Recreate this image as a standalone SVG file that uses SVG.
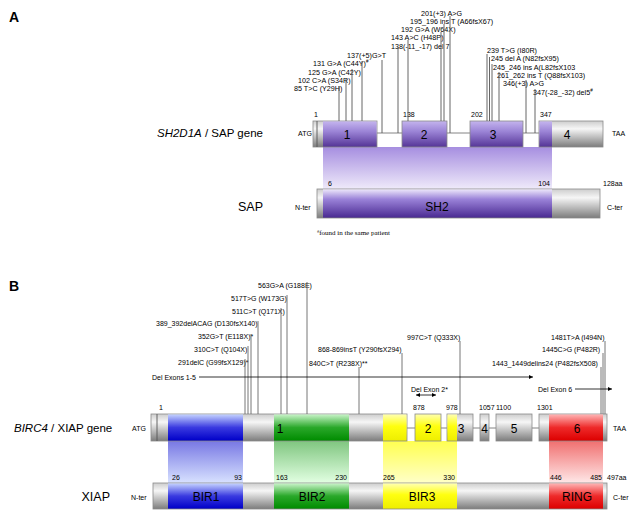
<svg xmlns="http://www.w3.org/2000/svg" width="640" height="510" viewBox="0 0 640 510">
<defs>
<linearGradient id="gGray" x1="0" y1="0" x2="0" y2="1"><stop offset="0" stop-color="#cdcdcd"/><stop offset="0.3" stop-color="#f6f6f6"/><stop offset="1" stop-color="#7c7c7c"/></linearGradient>
<linearGradient id="gPurp" x1="0" y1="0" x2="0" y2="1"><stop offset="0" stop-color="#c4b4ee"/><stop offset="0.4" stop-color="#9b84d6"/><stop offset="1" stop-color="#553597"/></linearGradient>
<linearGradient id="gPurpP" x1="0" y1="0" x2="0" y2="1"><stop offset="0" stop-color="#ece6fa"/><stop offset="0.35" stop-color="#9a82d8"/><stop offset="1" stop-color="#4a2a92"/></linearGradient>
<linearGradient id="gPurpProj" x1="0" y1="0" x2="0" y2="1"><stop offset="0" stop-color="#a68ee0"/><stop offset="1" stop-color="#efeafa"/></linearGradient>
<linearGradient id="gBlue" x1="0" y1="0" x2="0" y2="1"><stop offset="0" stop-color="#c4d2ff"/><stop offset="0.5" stop-color="#3a3ae0"/><stop offset="1" stop-color="#0000c8"/></linearGradient>
<linearGradient id="gBlueProj" x1="0" y1="0" x2="0" y2="1"><stop offset="0" stop-color="#7878e4"/><stop offset="1" stop-color="#d8e2ff"/></linearGradient>
<linearGradient id="gGreen" x1="0" y1="0" x2="0" y2="1"><stop offset="0" stop-color="#c8f4c8"/><stop offset="0.5" stop-color="#2aa82a"/><stop offset="1" stop-color="#008c00"/></linearGradient>
<linearGradient id="gGreenProj" x1="0" y1="0" x2="0" y2="1"><stop offset="0" stop-color="#80c680"/><stop offset="1" stop-color="#e2ffe2"/></linearGradient>
<linearGradient id="gYel" x1="0" y1="0" x2="0" y2="1"><stop offset="0" stop-color="#ffffb0"/><stop offset="0.45" stop-color="#ffff10"/><stop offset="1" stop-color="#eeee00"/></linearGradient>
<linearGradient id="gYelProj" x1="0" y1="0" x2="0" y2="1"><stop offset="0" stop-color="#ffff50"/><stop offset="1" stop-color="#ffffc8"/></linearGradient>
<linearGradient id="gRed" x1="0" y1="0" x2="0" y2="1"><stop offset="0" stop-color="#ffb4b4"/><stop offset="0.5" stop-color="#ee2a2a"/><stop offset="1" stop-color="#dd0000"/></linearGradient>
<linearGradient id="gRedProj" x1="0" y1="0" x2="0" y2="1"><stop offset="0" stop-color="#f07070"/><stop offset="1" stop-color="#ffe8e8"/></linearGradient>
<marker id="arr" viewBox="0 0 10 10" refX="10" refY="5" markerWidth="5" markerHeight="5" orient="auto-start-reverse"><path d="M0,0 L10,5 L0,10 z" fill="#000"/></marker>
</defs>
<style>
text{font-family:"Liberation Sans",Arial,sans-serif;fill:#000}
.m{font-size:7.2px}
.mb{font-size:7px}
.n{font-size:7px}
.t{font-size:7px}
.ex{font-size:12px}
.dom{font-size:12px}
.gn{font-size:11.5px}
.pn{font-size:12.5px}
.sec{font-size:14px;font-weight:bold}
.fn{font-family:"Liberation Serif","Times New Roman",serif;font-size:7px}
.box{stroke:#8a8a8a;stroke-width:0.8}
.ml{stroke:#555;stroke-width:0.9;fill:none}
.mlb{stroke:#666;stroke-width:0.9;fill:none}
.intr{stroke:#777;stroke-width:0.9;fill:none}
.arw{stroke:#000;stroke-width:0.8;fill:none}
</style>
<rect width="640" height="510" fill="#fff"/>

<text class="sec" x="9" y="22">A</text>
<text class="sec" x="9" y="291">B</text>

<!-- Section A -->
<g id="projA"><rect x="323" y="147" width="229" height="42" fill="url(#gPurpProj)"/></g>

<g id="geneA">
<text class="gn" x="157" y="137"><tspan font-style="italic">SH2D1A</tspan> / SAP gene</text>
<text class="t" x="298" y="136">ATG</text>
<text class="t" x="612" y="136">TAA</text>
<line class="intr" x1="377" y1="133" x2="402" y2="133"/>
<line class="intr" x1="447" y1="133" x2="470" y2="133"/>
<line class="intr" x1="523" y1="133" x2="539" y2="133"/>
<g id="exonA1"><rect class="box" x="313" y="121" width="64" height="26" fill="url(#gGray)"/><rect x="323" y="121.4" width="53.6" height="25.2" fill="url(#gPurp)"/><line x1="317" y1="121" x2="317" y2="147" stroke="#555" stroke-width="0.9"/><text class="ex" x="347" y="139" text-anchor="middle">1</text></g>
<g id="exonA2"><rect class="box" x="402" y="121" width="45" height="26" fill="url(#gPurp)"/><text class="ex" x="424" y="139" text-anchor="middle">2</text></g>
<g id="exonA3"><rect class="box" x="470" y="121" width="53" height="26" fill="url(#gPurp)"/><text class="ex" x="493" y="139" text-anchor="middle">3</text></g>
<g id="exonA4"><rect class="box" x="539" y="121" width="64" height="26" fill="url(#gGray)"/><rect x="539.4" y="121.4" width="12.6" height="25.2" fill="url(#gPurp)"/><text class="ex" x="567" y="139" text-anchor="middle">4</text></g>
<text class="n" x="314" y="117">1</text>
<text class="n" x="403" y="117">138</text>
<text class="n" x="471" y="117">202</text>
<text class="n" x="540" y="117">347</text>
</g>

<g id="proteinA">
<text class="pn" x="238" y="211">SAP</text>
<text class="t" x="295" y="210">N-ter</text>
<text class="t" x="607" y="210">C-ter</text>
<rect class="box" x="317" y="189" width="283" height="29" fill="url(#gGray)"/>
<rect x="323" y="189.4" width="229" height="28.2" fill="url(#gPurpP)"/>
<text class="dom" x="437" y="211" text-anchor="middle">SH2</text>
<text class="n" x="328" y="186">6</text>
<text class="n" x="550" y="186" text-anchor="end">104</text>
<text class="n" x="603" y="186">128aa</text>
<text class="fn" x="317" y="235"><tspan font-size="4.5" dy="-2.5">#</tspan><tspan dy="2.5">found in the same patient</tspan></text>
</g>

<g id="mutLabelsA">
<text class="m" x="421" y="15.5">201(+3) A&gt;G</text>
<text class="m" x="410" y="23.5">195_196 ins T (A66fsX67)</text>
<text class="m" x="401" y="31.5">192 G&gt;A (W64X)</text>
<text class="m" x="391" y="39.5">143 A&gt;C (H48P)</text>
<text class="m" x="391" y="48.5">138(-11_-17) del 7</text>
<text class="m" x="347" y="57.5">137(+5)G&gt;T</text>
<text class="m" x="313" y="65.5">131 G&gt;A (C44Y)<tspan font-size="4.5" dy="-3">#</tspan></text>
<text class="m" x="308" y="74.5">125 G&gt;A (C42Y)</text>
<text class="m" x="298" y="82.5">102 C&gt;A (S34R)</text>
<text class="m" x="294" y="90.5">85 T&gt;C (Y29H)</text>
<text class="m" x="487" y="52.5">239 T&gt;G (I80R)</text>
<text class="m" x="491" y="60.5">245 del A (N82fsX95)</text>
<text class="m" x="493" y="69.5">245_246 ins A(L82fsX103</text>
<text class="m" x="497" y="77.5">261_262 ins T (Q88fsX103)</text>
<text class="m" x="503" y="85.5">346(+3) A&gt;G</text>
<text class="m" x="533" y="94.5">347(-28_-32) del5<tspan font-size="4.5" dy="-3">#</tspan></text>
</g>

<!-- Section B -->
<g id="projB">
<rect x="168" y="441" width="75" height="42" fill="url(#gBlueProj)"/>
<rect x="274" y="441" width="75" height="42" fill="url(#gGreenProj)"/>
<rect x="383" y="441" width="74" height="42" fill="url(#gYelProj)"/>
<rect x="549" y="441" width="54" height="42" fill="url(#gRedProj)"/>
</g>

<g id="geneB">
<text class="gn" x="14" y="432"><tspan font-style="italic">BIRC4</tspan> / XIAP gene</text>
<text class="t" x="132" y="431">ATG</text>
<text class="t" x="613" y="431">TAA</text>
<line class="intr" x1="407" y1="428" x2="415" y2="428"/>
<line class="intr" x1="441" y1="428" x2="447" y2="428"/>
<line class="intr" x1="473" y1="428" x2="480" y2="428"/>
<line class="intr" x1="489" y1="428" x2="496" y2="428"/>
<line class="intr" x1="532" y1="428" x2="539" y2="428"/>
<g id="exonB1"><rect class="box" x="151" y="414" width="256" height="27" fill="url(#gGray)"/>
<rect x="168" y="414.4" width="75" height="26.2" fill="url(#gBlue)"/>
<rect x="274" y="414.4" width="75" height="26.2" fill="url(#gGreen)"/>
<rect x="383" y="414.4" width="23.6" height="26.2" fill="url(#gYel)"/>
<line x1="157" y1="414" x2="157" y2="441" stroke="#555" stroke-width="0.9"/>
<text class="ex" x="280" y="433" text-anchor="middle">1</text></g>
<g id="exonB2"><rect class="box" x="415" y="414" width="26" height="27" fill="url(#gYel)"/><text class="ex" x="428" y="433" text-anchor="middle">2</text></g>
<g id="exonB3"><rect class="box" x="447" y="414" width="26" height="27" fill="url(#gGray)"/><rect x="447.4" y="414.4" width="9.6" height="26.2" fill="url(#gYel)"/><text class="ex" x="461" y="433" text-anchor="middle">3</text></g>
<g id="exonB4"><rect class="box" x="480" y="414" width="9" height="27" fill="url(#gGray)"/><text class="ex" x="484.5" y="433" text-anchor="middle">4</text></g>
<g id="exonB5"><rect class="box" x="496" y="414" width="36" height="27" fill="url(#gGray)"/><text class="ex" x="514" y="433" text-anchor="middle">5</text></g>
<g id="exonB6"><rect class="box" x="539" y="414" width="68" height="27" fill="url(#gGray)"/><rect x="549" y="414.4" width="54" height="26.2" fill="url(#gRed)"/><text class="ex" x="577" y="433" text-anchor="middle">6</text></g>
<text class="n" x="159" y="410">1</text>
<text class="n" x="413" y="410">878</text>
<text class="n" x="446" y="410">978</text>
<text class="n" x="479" y="410">1057</text>
<text class="n" x="496" y="410">1100</text>
<text class="n" x="537" y="410">1301</text>
</g>

<g id="proteinB">
<text class="pn" x="110" y="501" text-anchor="end">XIAP</text>
<text class="t" x="131" y="500">N-ter</text>
<text class="t" x="613" y="500">C-ter</text>
<rect class="box" x="153" y="483" width="454" height="26" fill="url(#gGray)"/>
<rect x="168" y="483.4" width="75" height="25.2" fill="url(#gBlue)"/>
<rect x="274" y="483.4" width="75" height="25.2" fill="url(#gGreen)"/>
<rect x="383" y="483.4" width="74" height="25.2" fill="url(#gYel)"/>
<rect x="549" y="483.4" width="54" height="25.2" fill="url(#gRed)"/>
<text class="dom" x="206" y="501" text-anchor="middle">BIR1</text>
<text class="dom" x="312" y="501" text-anchor="middle">BIR2</text>
<text class="dom" x="422" y="501" text-anchor="middle">BIR3</text>
<text class="dom" x="577" y="501" text-anchor="middle">RING</text>
<text class="n" x="172" y="480">26</text>
<text class="n" x="242" y="480" text-anchor="end">93</text>
<text class="n" x="276" y="480">163</text>
<text class="n" x="347" y="480" text-anchor="end">230</text>
<text class="n" x="383" y="480">265</text>
<text class="n" x="455" y="480" text-anchor="end">330</text>
<text class="n" x="550" y="480">446</text>
<text class="n" x="602" y="480" text-anchor="end">485</text>
<text class="n" x="607" y="480">497aa</text>
</g>

<g id="mutLabelsB">
<text class="mb" x="258" y="287.5">563G&gt;A (G188E)</text>
<text class="mb" x="231" y="300.5">517T&gt;G (W173G)</text>
<text class="mb" x="232" y="313.5">511C&gt;T (Q171X)</text>
<text class="mb" x="156" y="325.5">389_392delACAG (D130fsX140)</text>
<text class="mb" x="198" y="338.5">352G&gt;T (E118X)*</text>
<text class="mb" x="194" y="351.5">310C&gt;T (Q104X)</text>
<text class="mb" x="178" y="364.5">291delC (G99fsX129)*</text>
<text class="mb" x="152" y="379.5">Del Exons 1-5</text>
<text class="mb" x="407" y="339.5">997C&gt;T (Q333X)</text>
<text class="mb" x="318" y="351.5">868-869insT (Y290fsX294)</text>
<text class="mb" x="309" y="365.5">840C&gt;T (R238X)**</text>
<text class="mb" x="551" y="339.5">1481T&gt;A (I494N)</text>
<text class="mb" x="542" y="351.5">1445C&gt;G (P482R)</text>
<text class="mb" x="492" y="365.5">1443_1449delins24 (P482fsX508)</text>
<text class="mb" x="411" y="391.5">Del Exon 2*</text>
<text class="mb" x="538" y="391.5">Del Exon 6</text>
</g>

<g id="connectors">
<g id="linesA">
<line class="ml" x1="339" y1="86" x2="339" y2="121"/>
<line class="ml" x1="346" y1="78" x2="346" y2="121"/>
<line class="ml" x1="352" y1="69" x2="352" y2="121"/>
<line class="ml" x1="362" y1="61" x2="362" y2="121"/>
<line class="ml" x1="382" y1="60" x2="382" y2="133"/>
<line class="ml" x1="398" y1="47" x2="398" y2="133"/>
<line class="ml" x1="408" y1="40" x2="408" y2="121"/>
<line class="ml" x1="441" y1="32" x2="441" y2="121"/>
<line class="ml" x1="444" y1="24" x2="444" y2="121"/>
<line class="ml" x1="450" y1="16" x2="450" y2="133"/>
<line class="ml" x1="487" y1="54" x2="487" y2="121"/>
<line class="ml" x1="489.5" y1="57" x2="489.5" y2="121"/>
<line class="ml" x1="492" y1="64" x2="492" y2="121"/>
<line class="ml" x1="499" y1="72" x2="499" y2="121"/>
<line class="ml" x1="526" y1="80" x2="526" y2="133"/>
<line class="ml" x1="535" y1="89" x2="535" y2="133"/>
</g>
<g id="linesB">
<line class="mlb" x1="245" y1="359" x2="245" y2="414"/>
<line class="mlb" x1="248" y1="346" x2="248" y2="414"/>
<line class="mlb" x1="251" y1="334" x2="251" y2="414"/>
<line class="mlb" x1="258" y1="321" x2="258" y2="414"/>
<line class="mlb" x1="281" y1="308" x2="281" y2="414"/>
<line class="mlb" x1="287" y1="295" x2="287" y2="414"/>
<line class="mlb" x1="307" y1="282" x2="307" y2="414"/>
<line class="mlb" x1="359" y1="367" x2="359" y2="414"/>
<line class="mlb" x1="402" y1="353" x2="402" y2="414"/>
<line class="mlb" x1="460" y1="341" x2="460" y2="414"/>
<line class="mlb" x1="601" y1="367" x2="601" y2="414"/>
<line class="mlb" x1="603" y1="353" x2="603" y2="414"/>
<line class="mlb" x1="605" y1="341" x2="605" y2="414"/>
</g>
<g id="deletions">
<line class="arw" x1="199" y1="377" x2="533" y2="377" marker-end="url(#arr)"/>
<line class="arw" x1="575" y1="389" x2="612" y2="389" marker-end="url(#arr)"/>
<line class="arw" x1="416" y1="395" x2="436" y2="395" marker-start="url(#arr)" marker-end="url(#arr)"/>
</g>
</g>
</svg>
